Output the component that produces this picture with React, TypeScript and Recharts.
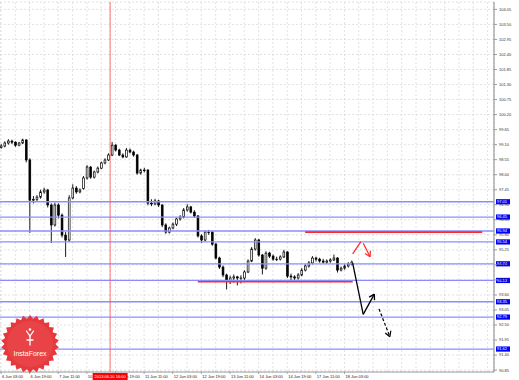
import React from 'react';
import { ComposedChart, Bar, XAxis, YAxis, CartesianGrid, ReferenceLine } from 'recharts';

// 2-hour candles, [open, high, low, close], starting 6 Jun 03:00
const candles: [number, number, number, number][] = [
  [99.0, 99.12, 98.95, 99.05], [99.05, 99.22, 99.0, 99.16], [99.16, 99.3, 99.1, 99.23],
  [99.23, 99.28, 99.12, 99.19], [99.19, 99.22, 99.02, 99.08], [99.08, 99.2, 99.04, 99.16],
  [99.16, 99.32, 99.12, 99.27], [99.27, 99.3, 98.45, 98.54], [98.54, 98.6, 95.87, 97.07],
  [97.07, 97.22, 96.95, 97.1], [97.1, 97.25, 97.02, 97.18], [97.18, 97.45, 97.12, 97.37],
  [97.37, 97.52, 97.3, 97.44], [97.44, 97.48, 96.8, 96.89], [96.89, 96.95, 95.5, 96.16],
  [96.16, 96.98, 96.1, 96.89], [96.89, 96.95, 96.4, 96.52], [96.52, 96.58, 95.7, 95.79],
  [95.79, 95.9, 94.99, 95.61], [95.61, 97.25, 95.55, 97.15], [97.15, 97.65, 97.1, 97.51],
  [97.51, 97.58, 97.3, 97.37], [97.37, 97.5, 97.32, 97.44], [97.5, 97.95, 97.45, 97.88],
  [97.88, 98.35, 97.82, 98.28], [98.28, 98.32, 97.85, 97.91], [97.91, 98.15, 97.86, 98.1],
  [98.1, 98.3, 98.05, 98.24], [98.24, 98.48, 98.2, 98.43], [98.43, 98.6, 98.38, 98.54],
  [98.54, 98.78, 98.5, 98.72], [98.72, 99.2, 98.68, 99.08], [99.08, 99.12, 98.85, 98.9],
  [98.9, 98.95, 98.68, 98.72], [98.72, 98.78, 98.6, 98.65], [98.65, 98.98, 98.62, 98.9],
  [98.9, 98.96, 98.78, 98.83], [98.83, 98.88, 98.66, 98.72], [98.72, 98.76, 98.0, 98.06],
  [98.06, 98.22, 98.0, 98.17], [98.17, 98.25, 98.08, 98.17], [98.17, 98.2, 96.88, 96.96],
  [96.96, 97.1, 96.85, 96.93], [96.93, 97.12, 96.88, 97.04], [97.04, 97.08, 96.82, 96.89],
  [96.89, 96.92, 96.08, 96.16], [96.16, 96.22, 95.84, 95.9], [95.9, 96.1, 95.85, 96.05],
  [96.05, 96.25, 96.0, 96.19], [96.19, 96.42, 96.12, 96.38], [96.38, 96.52, 96.32, 96.45],
  [96.45, 96.78, 96.4, 96.71], [96.71, 96.92, 96.65, 96.82], [96.82, 96.86, 96.58, 96.63],
  [96.63, 96.7, 96.42, 96.49], [96.49, 96.52, 95.7, 95.76], [95.76, 95.82, 95.5, 95.61],
  [95.61, 95.96, 95.55, 95.9], [95.9, 95.98, 95.8, 95.9], [95.9, 95.94, 95.4, 95.46],
  [95.46, 95.5, 94.9, 94.95], [94.95, 95.0, 94.55, 94.62], [94.62, 94.68, 94.25, 94.33],
  [94.33, 94.38, 93.8, 94.11], [94.11, 94.3, 94.0, 94.22], [94.22, 94.35, 94.05, 94.26],
  [94.26, 94.3, 93.95, 94.22], [94.22, 94.32, 94.02, 94.22], [94.22, 94.5, 94.15, 94.44],
  [94.44, 94.9, 94.4, 94.84], [94.84, 95.35, 94.8, 95.28], [95.28, 95.68, 95.22, 95.61],
  [95.61, 95.65, 95.0, 95.06], [95.06, 95.1, 94.35, 94.58], [94.58, 95.2, 94.52, 95.13],
  [95.13, 95.18, 94.95, 95.02], [95.02, 95.08, 94.85, 94.91], [94.91, 95.0, 94.84, 94.91],
  [94.91, 95.05, 94.86, 94.99], [94.99, 95.25, 94.95, 95.17], [95.17, 95.2, 94.22, 94.29],
  [94.29, 94.38, 94.12, 94.26], [94.26, 94.32, 94.12, 94.22], [94.22, 94.4, 94.16, 94.33],
  [94.33, 94.58, 94.28, 94.51], [94.51, 94.72, 94.46, 94.66], [94.66, 94.84, 94.6, 94.77],
  [94.77, 95.02, 94.72, 94.95], [94.95, 95.0, 94.82, 94.91], [94.91, 94.96, 94.78, 94.84],
  [94.84, 94.92, 94.75, 94.8], [94.8, 94.9, 94.74, 94.84], [94.84, 94.94, 94.78, 94.88],
  [94.88, 95.08, 94.84, 94.95], [94.95, 94.98, 94.42, 94.51], [94.51, 94.64, 94.46, 94.58],
  [94.58, 94.72, 94.52, 94.66], [94.66, 94.8, 94.6, 94.73], [94.73, 94.86, 94.68, 94.8],
];

const timeLabels = [
  '6 Jun 03:00', '6 Jun 19:00', '7 Jun 11:00', '10 Jun 03:00', '10 Jun 19:00',
  '11 Jun 11:00', '12 Jun 03:00', '12 Jun 19:00', '13 Jun 11:00', '14 Jun 03:00',
  '14 Jun 19:00', '17 Jun 11:00', '18 Jun 03:00',
];
const labelHours = [0, 16, 32, 48, 64, 80, 96, 112, 128, 144, 160, 176, 192];
const gridHours = [
  0, 8, 16, 24, 32, 40, 48, 56, 64, 72, 80, 88, 96, 104, 112, 120, 128, 136,
  144, 152, 160, 168, 176, 184, 192, 200, 208, 216, 224, 232, 240, 248, 256, 264, 272,
];
const cursorHour = 61;
const cursorLabel = '2013.06.10 16:00';

const priceTicks = [
  90.85, 91.4, 91.95, 92.5, 93.05, 93.6, 94.15, 94.7, 95.25, 95.8, 96.35, 96.9, 97.45,
  98.0, 98.55, 99.1, 99.65, 100.2, 100.75, 101.3, 101.85, 102.4, 102.95, 103.5, 104.05,
];
const blueLevels = [97.01, 96.45, 95.94, 95.54, 94.74, 94.13, 93.35, 92.79, 91.62];
const redLevels = [
  { price: 95.9, from: 170, to: 269 },
  { price: 94.08, from: 110, to: 196.6 },
];

// hand-drawn forecast arrows, [hour, price]
const redUp = [[196.6, 95.1], [201.2, 95.55]];
const redDown = [[202.5, 95.49], [206.3, 95.0]];
const redHead = [[203.5, 95.12], [206.3, 95.0], [206.5, 95.22]];
const blackPath = [[196.6, 94.76], [202.5, 92.89], [208.7, 93.63]];
const blackHead = [[205.8, 93.52], [208.7, 93.63], [208.8, 93.41]];
const dashPath = [[211.3, 93.09], [217.4, 92.07]];
const dashHead = [[214.8, 92.21], [217.4, 92.07], [217.9, 92.29]];

const data = candles.map(([o, hi, lo, c], i) => ({ h: i * 2, o, hi, lo, c, range: [lo, hi] }));

const FONT = 'Liberation Sans, Arial, sans-serif';

const Candle = (props: any) => {
  const { x, y, width, height, payload } = props;
  if (!payload) return null;
  const { o, hi, lo, c } = payload;
  const top = Math.min(y, y + height);
  const h = Math.abs(height);
  const cx = x + width / 2;
  const toY = (v: number) => top + ((hi - v) / (hi - lo)) * h;
  const bTop = toY(Math.max(o, c));
  const bBot = toY(Math.min(o, c));
  const up = c >= o;
  return (
    <g>
      <line x1={cx} x2={cx} y1={top} y2={top + h} stroke="#000" strokeWidth={0.9} />
      <rect
        x={cx - 0.9}
        y={bTop}
        width={1.8}
        height={Math.max(bBot - bTop, 0.6)}
        fill={up ? '#fff' : '#000'}
        stroke="#000"
        strokeWidth={0.7}
      />
    </g>
  );
};

const TimeTick = (props: any) => {
  const { x, payload } = props;
  const v = payload.value;
  if (v === cursorHour) {
    return (
      <g>
        <rect x={x - 17.5} y={373} width={35} height={7} fill="#ff0000" />
        <text x={x} y={378.3} fontSize={4} fill="#fff" textAnchor="middle" fontFamily={FONT}>
          {cursorLabel}
        </text>
      </g>
    );
  }
  const idx = labelHours.indexOf(v);
  if (idx < 0) return <g />;
  return (
    <g>
      <line x1={x} x2={x} y1={372} y2={374} stroke="#777" strokeWidth={0.6} />
      <text x={x + 1} y={378} fontSize={4} fill="#222" fontFamily={FONT}>
        {timeLabels[idx]}
      </text>
    </g>
  );
};

const levelTag = (text: string) => (p: any) => {
  const { x, y, width } = p.viewBox;
  const right = x + width;
  return (
    <g>
      <rect x={right + 2} y={y - 2.6} width={14} height={5.2} fill="#0000ff" />
      <text x={right + 3} y={y + 1.4} fontSize={4} fill="#fff" fontFamily={FONT}>
        {text}
      </text>
    </g>
  );
};

const segments = (pts: number[][]) =>
  pts.slice(1).map((p, i) => [
    { x: pts[i][0], y: pts[i][1] },
    { x: p[0], y: p[1] },
  ]);

const drawPath = (pts: number[][], color: string, width: number, key: string, dash?: string) =>
  segments(pts).map((seg, i) => (
    <ReferenceLine
      key={`${key}-${i}`}
      segment={seg as any}
      stroke={color}
      strokeWidth={width}
      strokeDasharray={dash}
    />
  ));

const starPoints = (cx: number, cy: number, ro: number, ri: number, n: number) => {
  const pts: string[] = [];
  for (let i = 0; i < n * 2; i++) {
    const r = i % 2 === 0 ? ro : ri;
    const a = (Math.PI * i) / n - Math.PI / 2;
    pts.push(`${(cx + r * Math.cos(a)).toFixed(2)},${(cy + r * Math.sin(a)).toFixed(2)}`);
  }
  return pts.join(' ');
};

const Logo = () => (
  <svg
    width={519}
    height={380}
    style={{ position: 'absolute', left: 0, top: 0, pointerEvents: 'none' }}
  >
    <polygon points={starPoints(30, 344, 29, 25.5, 26)} fill="#e5393d" />
    <circle cx={30} cy={344} r={23} fill="#e84448" />
    <g stroke="#fff" strokeWidth={1.3} fill="none" strokeLinecap="round">
      <path d="M26.5 331 L30 336 L33.5 331" />
      <path d="M30 336 L30 345" />
      <path d="M27 340 L33 340" />
    </g>
    <circle cx={30} cy={329.5} r={1.3} fill="#fff" />
    <text x={30} y={356} fontSize={7} fill="#fff" textAnchor="middle" fontFamily={FONT}>
      InstaForex
    </text>
  </svg>
);

export default function App() {
  return (
    <div style={{ position: 'absolute', left: 0, top: 0, width: 519, height: 380, background: '#fff' }}>
      <ComposedChart
        width={519}
        height={380}
        data={data}
        margin={{ top: 2, right: 0, bottom: 0, left: 0 }}
      >
        <CartesianGrid stroke="#cfcfcf" strokeDasharray="2 2" strokeWidth={0.6} />
        <XAxis
          dataKey="h"
          type="number"
          domain={[-0.56, 275.6]}
          ticks={[...gridHours, cursorHour]}
          interval={0}
          height={8}
          tickLine={false}
          axisLine={{ stroke: '#9a9a9a' }}
          tick={<TimeTick />}
          allowDataOverflow
        />
        <YAxis
          orientation="right"
          type="number"
          domain={[90.78, 104.32]}
          ticks={priceTicks}
          interval={0}
          width={25}
          tickSize={3}
          tickMargin={2}
          tickLine={{ stroke: '#9a9a9a' }}
          axisLine={{ stroke: '#9a9a9a', strokeWidth: 1.2 }}
          tick={{ fontSize: 4, fill: '#333', fontFamily: FONT }}
          tickFormatter={(v: number) => v.toFixed(2)}
          allowDataOverflow
        />
        {blueLevels.map((v) => (
          <ReferenceLine
            key={`b-${v}`}
            y={v}
            stroke="#8c8cff"
            strokeWidth={1.3}
            label={levelTag(v.toFixed(2))}
          />
        ))}
        <ReferenceLine x={cursorHour} stroke="#ff5050" strokeWidth={0.8} />
        {redLevels.map((r) => (
          <ReferenceLine
            key={`r-${r.price}`}
            segment={[{ x: r.from, y: r.price }, { x: r.to, y: r.price }]}
            stroke="#ff2a2a"
            strokeWidth={1.6}
          />
        ))}
        <Bar dataKey="range" barSize={2} shape={<Candle />} isAnimationActive={false} />
        {drawPath(redUp, '#ff2a2a', 1.2, 'ru')}
        {drawPath(redDown, '#ff2a2a', 1.2, 'rd')}
        {drawPath(redHead, '#ff2a2a', 1.2, 'rh')}
        {drawPath(blackPath, '#000', 1.3, 'bp')}
        {drawPath(blackHead, '#000', 1.3, 'bh')}
        {drawPath(dashPath, '#000', 1.2, 'dp', '3 2')}
        {drawPath(dashHead, '#000', 1.2, 'dh')}
      </ComposedChart>
      <Logo />
    </div>
  );
}
